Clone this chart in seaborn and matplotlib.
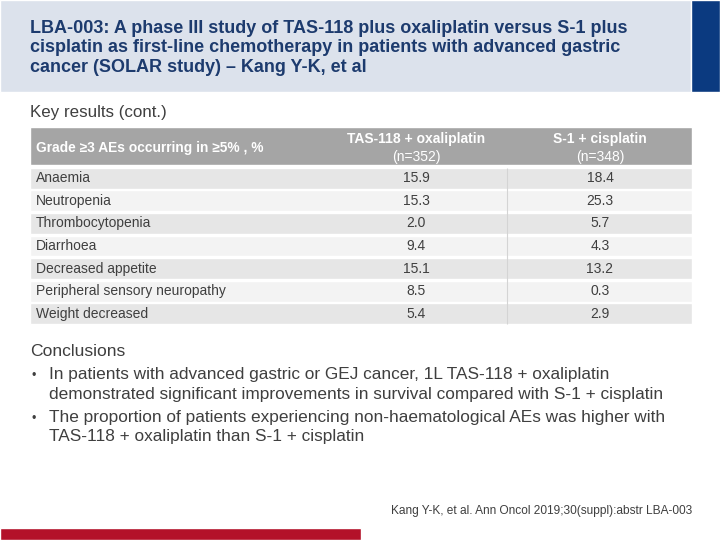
import matplotlib
matplotlib.use("Agg")
import matplotlib.pyplot as plt
import seaborn as sns
import pandas as pd

# table data
adverse_events = ["Anaemia", "Neutropenia", "Thrombocytopenia", "Diarrhoea",
                  "Decreased appetite", "Peripheral sensory neuropathy", "Weight decreased"]
tas118_oxali = [15.9, 15.3, 2.0, 9.4, 15.1, 8.5, 5.4]
s1_cisplatin = [18.4, 25.3, 5.7, 4.3, 13.2, 0.3, 2.9]
first_col_header = "Grade \u22653 AEs occurring in \u22655% , %"
arm_names = ["TAS-118 + oxaliplatin", "S-1 + cisplatin"]
arm_n = ["(n=352)", "(n=348)"]

title = ("LBA-003: A phase III study of TAS-118 plus oxaliplatin versus S-1 plus\n"
         "cisplatin as first-line chemotherapy in patients with advanced gastric\n"
         "cancer (SOLAR study) \u2013 Kang Y-K, et al")
subtitle = "Key results (cont.)"
conclusions = [
    "In patients with advanced gastric or GEJ cancer, 1L TAS-118 + oxaliplatin\n"
    "demonstrated significant improvements in survival compared with S-1 + cisplatin",
    "The proportion of patients experiencing non-haematological AEs was higher with\n"
    "TAS-118 + oxaliplatin than S-1 + cisplatin",
]
reference = "Kang Y-K, et al. Ann Oncol 2019;30(suppl):abstr LBA-003"

df = pd.DataFrame({"event": adverse_events, "tas": tas118_oxali, "s1": s1_cisplatin})

sns.set_theme(style="white")
plt.rcParams["font.family"] = ["Liberation Sans", "DejaVu Sans"]

navy = "#1d3b6e"
text_grey = "#3f3f3f"

fig = plt.figure(figsize=(7.2, 5.4), dpi=100)

# page layer in pixel units
page = fig.add_axes([0, 0, 1, 1])
page.set_xlim(0, 720)
page.set_ylim(540, 0)
page.axis("off")

page.barh(46, 691, height=92, left=0, color="#dce2ec")
page.barh(46, 29, height=92, left=691, color="#0b3a80")
page.barh(534, 361, height=12, left=0, color="#b31129")

page.text(30, 48, title, fontsize=13, fontweight="bold", color=navy,
          va="center", ha="left", linespacing=1.2)
page.text(30, 112, subtitle, fontsize=12.2, color=text_grey, va="center")

# table header
page.barh(146, 662, height=38, left=30, color="#a5a5a5")
page.text(36, 148, first_col_header, fontsize=9.9, fontweight="bold", color="white", va="center")
for cx, name, n in zip([416, 600], arm_names, arm_n):
    page.text(cx, 139, name, fontsize=10, fontweight="bold", color="white", va="center", ha="center")
    page.text(cx, 157, n, fontsize=10, color="white", va="center", ha="center")

# table body
tab = fig.add_axes([30 / 720, 1 - 325 / 540, 662 / 720, (325 - 167) / 540])
tab.set_xlim(0, 662)
tab.set_ylim(len(df) - 0.5, -0.5)
tab.axis("off")
row_colors = ["#e6e6e6" if i % 2 == 0 else "#f3f3f3" for i in range(len(df))]
tab.barh(range(len(df)), 662, height=0.92, left=0, color=row_colors)
tab.vlines(477, -0.46, len(df) - 0.54, color="#d4d4d4", lw=0.8)
for i, row in df.iterrows():
    tab.text(6, i, row["event"], fontsize=10, color=text_grey, va="center")
    tab.text(386, i, f"{row['tas']:.1f}", fontsize=10, color=text_grey, va="center", ha="center")
    tab.text(570, i, f"{row['s1']:.1f}", fontsize=10, color=text_grey, va="center", ha="center")

# conclusions
page.text(30, 351, "Conclusions", fontsize=12.6, color=text_grey, va="center")
y = 384.5
for item in conclusions:
    page.text(32, y - 8, "\u2022", fontsize=9, color=text_grey, va="center")
    page.text(49, y, item, fontsize=12.4, color=text_grey, va="center", linespacing=1.38)
    y += 42.5

page.text(692, 511, reference, fontsize=8.6, color=text_grey, va="center", ha="right")

fig.savefig("out.png", dpi=100)
